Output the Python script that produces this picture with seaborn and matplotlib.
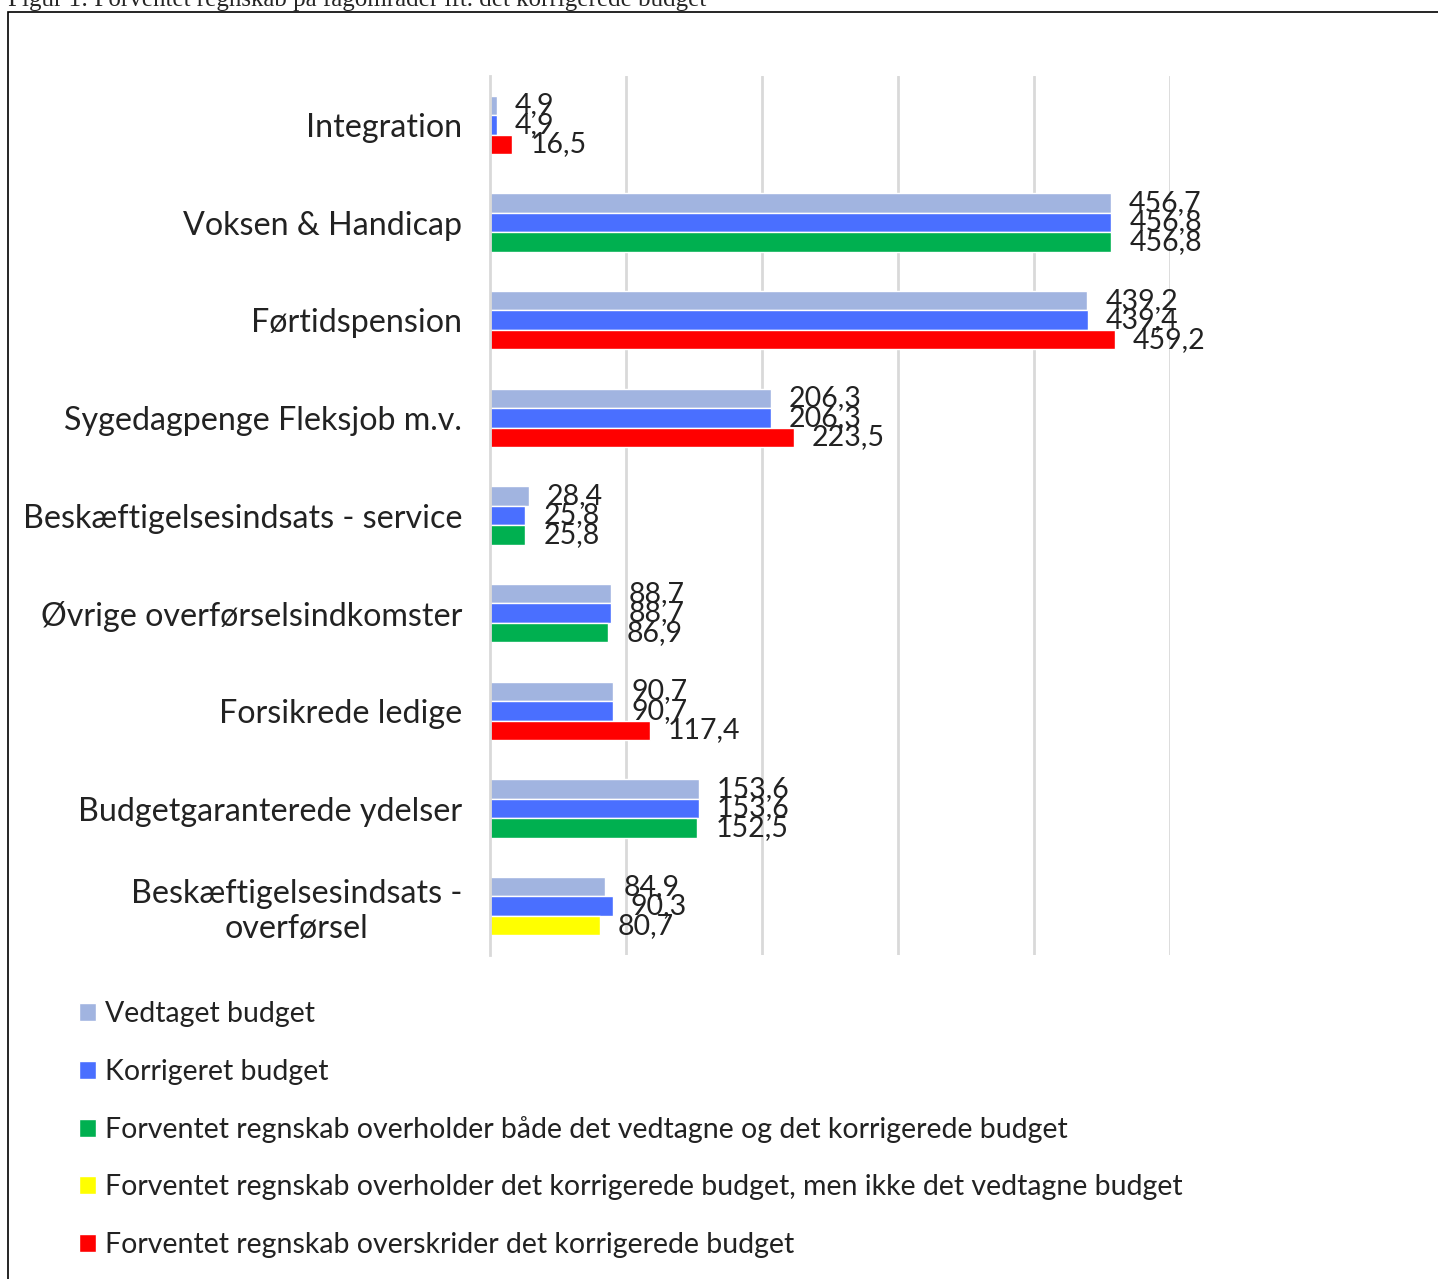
import pandas as pd
import seaborn as sns
import matplotlib.pyplot as plt
from matplotlib.patches import Patch, Rectangle

# Data (mio. kr.)
categories = [
    "Integration",
    "Voksen & Handicap",
    "Førtidspension",
    "Sygedagpenge Fleksjob m.v.",
    "Beskæftigelsesindsats - service",
    "Øvrige overførselsindkomster",
    "Forsikrede ledige",
    "Budgetgaranterede ydelser",
    "Beskæftigelsesindsats -\noverførsel",
]
vedtaget = [4.9, 456.7, 439.2, 206.3, 28.4, 88.7, 90.7, 153.6, 84.9]
korrigeret = [4.9, 456.8, 439.4, 206.3, 25.8, 88.7, 90.7, 153.6, 90.3]
forventet = [16.5, 456.8, 459.2, 223.5, 25.8, 86.9, 117.4, 152.5, 80.7]
status = ["red", "green", "red", "red", "green", "green", "red", "green", "yellow"]

series_names = ["Vedtaget budget", "Korrigeret budget", "Forventet regnskab"]
legend_labels = [
    "Vedtaget budget",
    "Korrigeret budget",
    "Forventet regnskab overholder både det vedtagne og det korrigerede budget",
    "Forventet regnskab overholder det korrigerede budget, men ikke det vedtagne budget",
    "Forventet regnskab overskrider det korrigerede budget",
]

colors = {
    "vedtaget": "#A1B4E0",
    "korrigeret": "#4A6FFF",
    "green": "#00B050",
    "yellow": "#FFFF00",
    "red": "#FF0000",
}

df = pd.DataFrame({
    "kategori": categories * 3,
    "serie": [s for s in series_names for _ in categories],
    "værdi": vedtaget + korrigeret + forventet,
})

sns.set_style("white")
plt.rcParams["font.family"] = ["Lato", "DejaVu Sans"]

fig = plt.figure(figsize=(14.38, 12.79), dpi=100)
ax = fig.add_axes([490 / 1438, 1 - 955 / 1279, 680 / 1438, 879 / 1279])

sns.barplot(data=df, y="kategori", x="værdi", hue="serie", orient="h",
            palette=[colors["vedtaget"], colors["korrigeret"], colors["red"]],
            width=0.6, saturation=1, legend=False, ax=ax)

# third series gets a colour by status
for bar, st in zip(ax.containers[2], status):
    bar.set_facecolor(colors[st])

# value labels with decimal comma
for cont, vals in zip(ax.containers, [vedtaget, korrigeret, forventet]):
    ax.bar_label(cont, labels=[f"{v:.1f}".replace(".", ",") for v in vals],
                 padding=13, fontsize=20.5, color="#222222", clip_on=False)

ax.set_xlim(0, 500)
ax.set_ylim(len(categories) - 0.5, -0.5)
ax.set_xlabel("")
ax.set_ylabel("")
ax.set_xticks([100, 200, 300, 400, 500])
ax.set_xticklabels([])
ax.tick_params(axis="x", length=0)
ax.grid(axis="x", color="#D9D9D9", linewidth=2)
ax.set_axisbelow(True)
for side in ["top", "right", "bottom"]:
    ax.spines[side].set_visible(False)
ax.spines["left"].set_color("#D9D9D9")
ax.spines["left"].set_linewidth(2)

ax.set_yticks(range(len(categories)))
ax.set_yticklabels(categories, fontsize=23.2, color="#222222", multialignment="center")
ax.tick_params(axis="y", length=0, pad=20)
ax.set_yticks([i - 0.5 for i in range(len(categories) + 1)], minor=True)
ax.tick_params(axis="y", which="minor", length=6, width=2, color="#D9D9D9")

handles = [Patch(facecolor=colors[k]) for k in ["vedtaget", "korrigeret", "green", "yellow", "red"]]
fig.legend(handles, legend_labels, loc="upper left", bbox_to_anchor=(68 / 1438, 1 - 990 / 1279),
           frameon=False, fontsize=20.5, handlelength=0.6, handleheight=0.6,
           handletextpad=0.3, labelspacing=1.1, borderaxespad=0, labelcolor="#222222")

# frame and cut-off caption from the source document
fig.patches.append(Rectangle((8 / 1438, -0.01), 1.1, 1 - 12 / 1279 + 0.01,
                             transform=fig.transFigure, fill=False,
                             edgecolor="black", linewidth=1.2))
fig.text(8 / 1438, 1 - 6 / 1279, "Figur 1: Forventet regnskab på fagområder ift. det korrigerede budget",
         fontsize=18, family="Liberation Serif", va="baseline", ha="left")

fig.savefig("out.png", dpi=100)
